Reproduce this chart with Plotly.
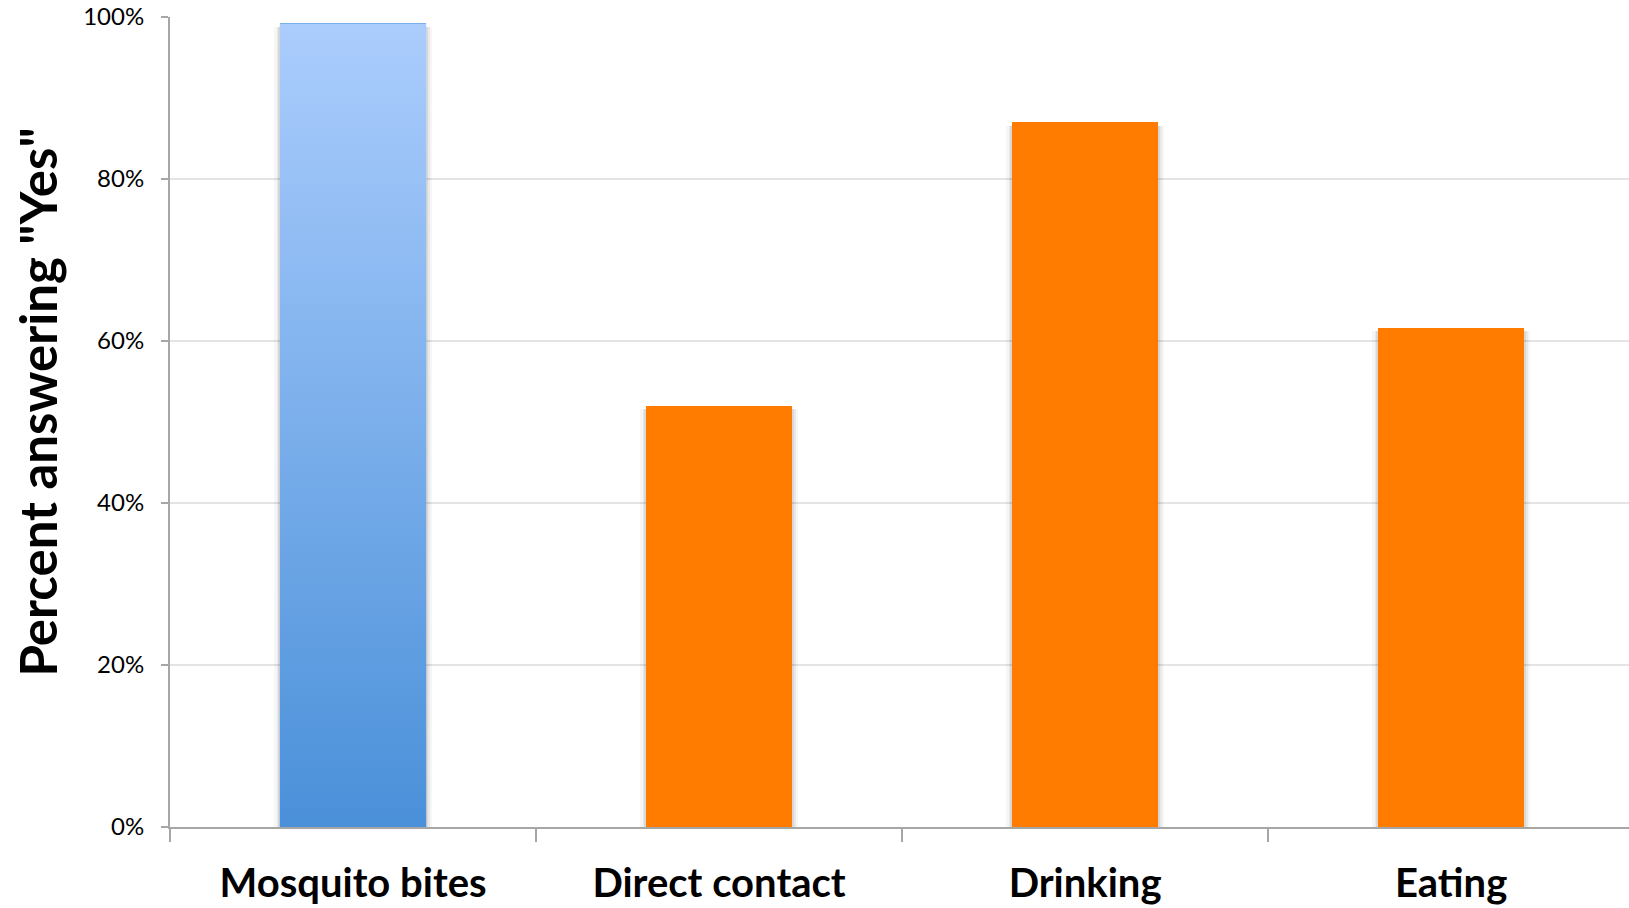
import plotly.graph_objects as go

# Survey: how people think the virus is transmitted
categories = ["Mosquito bites", "Direct contact", "Drinking", "Eating"]
percent_yes = [0.992, 0.520, 0.870, 0.616]
y_tick_values = [0, 0.2, 0.4, 0.6, 0.8, 1.0]

BAR_WIDTH = 0.40
ORANGE = "#ff7c00"
BLUE_TOP = "#abcdfd"
BLUE_BOTTOM = "#4a90d9"
AXIS_GRAY = "#a6a6a6"
GRID_GRAY = "#e4e4e4"
FONT = "Lato"

positions = list(range(len(categories)))
bar_colors = [BLUE_BOTTOM] + [ORANGE] * (len(categories) - 1)

fig = go.Figure()

# soft drop shadow behind each bar
for extra, alpha in [(0.030, 0.035), (0.018, 0.05), (0.008, 0.07)]:
    fig.add_trace(go.Bar(
        x=positions, y=[v + 0.002 for v in percent_yes], base=-0.006,
        width=BAR_WIDTH + extra,
        marker=dict(color=f"rgba(0,0,0,{alpha})", line=dict(width=0)),
        hoverinfo="skip", showlegend=False,
    ))

fig.add_trace(go.Bar(
    x=positions, y=percent_yes, width=BAR_WIDTH,
    marker=dict(color=bar_colors, line=dict(width=0)),
    showlegend=False,
))

# vertical gradient fill for the first bar
c0, v0 = positions[0], percent_yes[0]
fig.add_trace(go.Scatter(
    x=[c0 - BAR_WIDTH / 2, c0 - BAR_WIDTH / 2, c0 + BAR_WIDTH / 2, c0 + BAR_WIDTH / 2, c0 - BAR_WIDTH / 2],
    y=[0, v0, v0, 0, 0],
    mode="lines", line=dict(width=0), fill="toself",
    fillgradient=dict(type="vertical", start=0, stop=v0,
                      colorscale=[[0, BLUE_BOTTOM], [1, BLUE_TOP]]),
    hoverinfo="skip", showlegend=False,
))

fig.update_layout(
    width=1629, height=908,
    margin=dict(l=170, r=0, t=17, b=81),
    plot_bgcolor="white", paper_bgcolor="white",
    barmode="overlay", bargap=0,
    font=dict(family=FONT, color="black"),
    xaxis=dict(
        range=[-0.5, 3.486],
        tickvals=positions, ticktext=categories,
        ticks="", showgrid=False, zeroline=False,
        showline=True, linecolor=AXIS_GRAY, linewidth=2,
        tickfont=dict(family=FONT, size=40, color="black", weight="bold"),
        ticklabelstandoff=20,
        minor=dict(tickvals=[p - 0.5 for p in positions] + [positions[-1] + 0.5],
                   ticks="outside", ticklen=13, tickcolor=AXIS_GRAY, tickwidth=2,
                   showgrid=False),
    ),
    yaxis=dict(
        range=[0, 1], tickvals=y_tick_values, tickformat=".0%",
        ticks="outside", ticklen=7, tickcolor=AXIS_GRAY, tickwidth=2,
        showline=True, linecolor=AXIS_GRAY, linewidth=2,
        showgrid=True, gridcolor=GRID_GRAY, gridwidth=2,
        zeroline=False,
        tickfont=dict(family=FONT, size=24, color="black"),
        ticklabelstandoff=12,
    ),
    annotations=[dict(
        text='Percent answering "Yes"', textangle=-90,
        xref="paper", yref="paper", x=(38 - 170) / 1459, y=0.524,
        showarrow=False, xanchor="center", yanchor="middle",
        font=dict(family=FONT, size=51, color="black", weight="bold"),
    )],
)

fig.write_html("out.html")
